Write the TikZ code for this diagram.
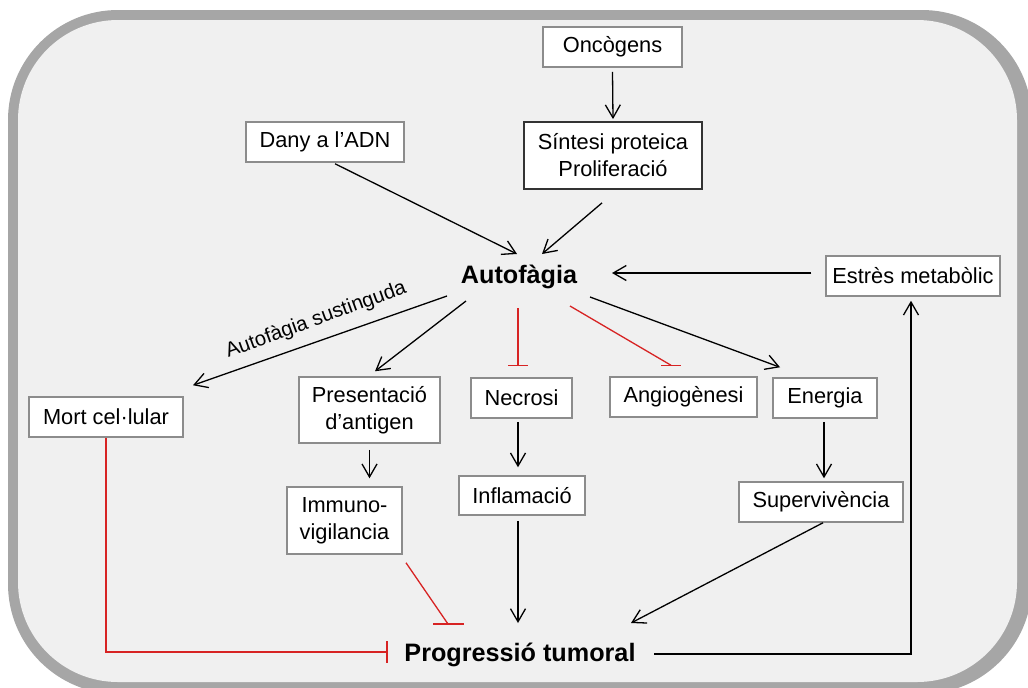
\documentclass[tikz,border=0pt]{standalone}
\usepackage{fontspec}
\setmainfont{Liberation Sans}
\usetikzlibrary{arrows.meta}
\definecolor{bordergray}{HTML}{A6A6A6}
\definecolor{bggray}{HTML}{F0F0F0}
\definecolor{boxgray}{HTML}{8C8C8C}
\definecolor{inhred}{RGB}{215,35,35}
\begin{document}
\begin{tikzpicture}[x=0.5pt,y=-0.5pt,
  box/.style={draw=boxgray, line width=0.75pt, fill=white, align=center, inner sep=0pt, font=\fontsize{10.9}{13.5}\selectfont},
  keybox/.style={box, draw=black!80, line width=0.9pt},
  hub/.style={font=\fontsize{12.6}{15}\selectfont\bfseries, inner sep=0pt},
  arr/.style={line width=0.65pt, -{Straight Barb[length=6.5pt,width=7.5pt]}},
  inh/.style={line width=0.65pt, draw=inhred},
  lbl/.style={font=\fontsize{10.2}{12}\selectfont, inner sep=0pt}
]
\useasboundingbox (0,0) rectangle (1028,687);
\fill[bordergray, rounded corners=55pt] (8,10) rectangle (1032,694);
\fill[bggray, rounded corners=50pt] (18,20) rectangle (1017,682);

% nodes
\node[box, minimum width=69.5pt, minimum height=20pt] (onc) at (612.5,47) {Oncògens};
\node[keybox, minimum width=89pt, minimum height=33.5pt] (sint) at (613,155.5) {Síntesi proteica\\Proliferació};
\node[box, minimum width=79pt, minimum height=20pt] (dany) at (325,142) {Dany a l’ADN};
\node[hub] (auto) at (519,277) {Autofàgia};
\node[box, minimum width=87pt, minimum height=20pt] (estres) at (913,276) {Estrès metabòlic};
\node[box, minimum width=77pt, minimum height=20pt] (mort) at (106,417) {Mort cel·lular};
\node[box, minimum width=70.5pt, minimum height=33pt] (pres) at (369.5,410) {Presentació\\d’antigen};
\node[box, minimum width=50.5pt, minimum height=20pt] (necr) at (521.5,398) {Necrosi};
\node[box, minimum width=73.5pt, minimum height=20pt] (angio) at (683.5,397) {Angiogènesi};
\node[box, minimum width=52pt, minimum height=20pt] (ener) at (825,398) {Energia};
\node[box, minimum width=57.5pt, minimum height=33.5pt] (immuno) at (344.5,520.5) {Immuno-\\vigilancia};
\node[box, minimum width=63pt, minimum height=19.5pt] (infl) at (522,495.5) {Inflamació};
\node[box, minimum width=82pt, minimum height=20pt] (superv) at (821,502) {Supervivència};
\node[hub] (prog) at (520,655) {Progressió tumoral};
\node[lbl, rotate=20] (sust) at (316,320) {Autofàgia sustinguda};

% activating connectors
\draw[arr] ([shift={(0,4)}]onc.south) -- ([shift={(0,-2)}]sint.north);
\draw[arr] ([shift={(10,1)}]dany.south) -- ([shift={(-2,-23)}]auto.center);
\draw[arr] ([shift={(-11,13)}]sint.south) -- ([shift={(23,-23)}]auto.center);
\draw[arr] ([shift={(-14,-3)}]estres.west) -- ([shift={(93,-4)}]auto.center);
\draw[arr] ([shift={(-72,19)}]auto.center) -- ([shift={(87,-11)}]mort.north);
\draw[arr] ([shift={(-53,24)}]auto.center) -- ([shift={(5.5,-5)}]pres.north);
\draw[arr] ([shift={(71,20)}]auto.center) -- ([shift={(-45,-10)}]ener.north);
\draw[arr] ([shift={(0,6)}]pres.south) -- ([shift={(25,-8)}]immuno.north);
\draw[arr] ([shift={(-3.5,3)}]necr.south) -- ([shift={(-4,-8)}]infl.north);
\draw[arr] ([shift={(-1,3)}]ener.south) -- ([shift={(3,-3)}]superv.north);
\draw[arr] ([shift={(-4,5)}]infl.south) -- ([shift={(-2,-32)}]prog.center);
\draw[arr] ([shift={(2,0)}]superv.south) -- ([shift={(111,-32)}]prog.center);
\draw[arr] ([shift={(134,-1)}]prog.center) -| ([shift={(-2,4)}]estres.south);

% inhibiting connectors
\draw[inh] ([shift={(-1,31)}]auto.center) -- ([shift={(-3.5,-12)}]necr.north) coordinate (nb);
\draw[inh] ([shift={(-10,0)}]nb) -- ([shift={(10,0)}]nb);
\draw[inh] ([shift={(51,29)}]auto.center) -- ([shift={(-12.5,-11)}]angio.north) coordinate (ab);
\draw[inh] ([shift={(-10,0)}]ab) -- ([shift={(10,0)}]ab);
\draw[inh] ([shift={(61.5,8)}]immuno.south) -- ([shift={(-72,-31)}]prog.center) coordinate (ib);
\draw[inh] ([shift={(-15,0)}]ib) -- ([shift={(16,0)}]ib);
\draw[inh] (mort.south) |- ([shift={(-133,-3)}]prog.center) coordinate (mb);
\draw[inh] ([shift={(0,-11)}]mb) -- ([shift={(0,11)}]mb);
\end{tikzpicture}
\end{document}
